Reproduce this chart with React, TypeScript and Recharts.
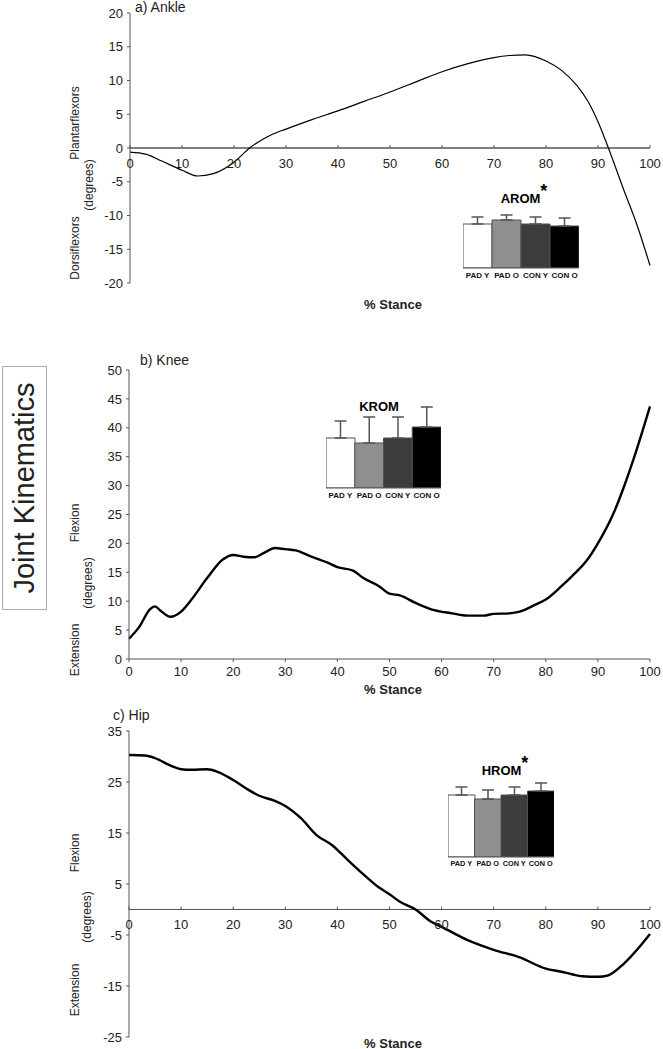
import React from 'react';
import { LineChart, Line, XAxis, YAxis, ReferenceLine, BarChart, Bar, Cell, ErrorBar } from 'recharts';

const NARROW = '"Liberation Sans Narrow", "Arial Narrow", "Liberation Sans", Arial, sans-serif';
const SANS = '"Liberation Sans", Arial, sans-serif';
const AXIS = '#555';

// % stance and joint angle (degrees)
const ankleStance = [0, 3, 6, 10, 13, 16, 20, 23, 27, 30, 35, 40, 45, 50, 55, 60, 65, 70, 73, 76, 80, 83, 86, 88, 90, 92, 95, 97.5, 100];
const ankleAngle = [-0.6, -0.9, -1.9, -3.3, -4.15, -3.8, -2.1, 0, 1.9, 2.8, 4.2, 5.5, 6.9, 8.3, 9.8, 11.3, 12.5, 13.4, 13.7, 13.8, 12.9, 11.5, 9.2, 7.0, 3.9, 0, -6.3, -11.4, -17.4];

const kneeStance = [0, 2, 4, 5, 6, 8, 10, 12, 15, 18, 20, 22, 24, 26, 28, 30, 32, 35, 38, 40, 43, 45, 48, 50, 52, 55, 58, 62, 65, 68, 70, 73, 75, 78, 80, 83, 85, 88, 90, 93, 95, 97, 100];
const kneeAngle = [3.5, 5.6, 8.6, 9.1, 8.4, 7.3, 8.2, 10.3, 14, 17.2, 18, 17.7, 17.6, 18.4, 19.2, 19, 18.8, 17.7, 16.7, 15.9, 15.3, 14, 12.6, 11.3, 11, 9.7, 8.6, 7.9, 7.5, 7.5, 7.8, 7.9, 8.2, 9.4, 10.3, 12.6, 14.3, 17.2, 20, 25.2, 29.8, 35, 43.7];

const hipStance = [0, 3, 5, 8, 10, 12, 15, 17, 20, 23, 25, 28, 30, 33, 36, 39, 42, 45, 48, 50, 52, 55, 58, 60, 65, 70, 75, 80, 83, 85, 87, 90, 92, 95, 98, 100];
const hipAngle = [30.3, 30.2, 29.7, 28.2, 27.5, 27.4, 27.5, 27, 25.4, 23.4, 22.3, 21.3, 20.3, 17.9, 14.6, 12.6, 9.7, 6.9, 4.3, 3, 1.5, 0, -2.4, -3.4, -6, -7.9, -9.4, -11.6, -12.2, -12.7, -13.1, -13.2, -12.9, -10.6, -7.3, -4.8];

// range of motion insets: group means and SD
const groups = ['PAD Y', 'PAD O', 'CON Y', 'CON O'];
const groupFills = ['#ffffff', '#8f8f8f', '#3c3c3c', '#000000'];
const aromMean = [22, 24, 22, 21];
const aromSd = [3.5, 2.5, 3.5, 4];
const kromMean = [50, 45, 50, 61];
const kromSd = [17, 26, 21, 20];
const hromMean = [62, 58, 62, 66];
const hromSd = [8, 9, 8, 8];

const stanceTicks = [0, 10, 20, 30, 40, 50, 60, 70, 80, 90, 100];
const ankleTicks = [-20, -15, -10, -5, 0, 5, 10, 15, 20];
const kneeTicks = [0, 5, 10, 15, 20, 25, 30, 35, 40, 45, 50];
const hipTicks = [-25, -15, -5, 5, 15, 25, 35];

const toRows = (xs: number[], ys: number[]) => xs.map((x, i) => ({ x, y: ys[i] }));
const toBars = (means: number[], sds: number[]) =>
  groups.map((name, i) => ({ name, value: means[i], err: [0, sds[i]] }));

const tickStyle = { fontFamily: NARROW, fontSize: 13, fill: '#222' };

// x tick drawn on the zero line instead of the bottom of the plot
const zeroTick = (shift: number) => (props: any) => {
  const { x, y, payload } = props;
  return (
    <g transform={`translate(${x},${y - shift})`}>
      <line x1={0} x2={0} y1={-3} y2={0} stroke={AXIS} />
      <text y={15} dy="0.35em" textAnchor="middle" style={tickStyle}>
        {payload.value}
      </text>
    </g>
  );
};

const Label = ({ x, y, text, size = 12, bold = false, rotate = false, family = NARROW, left = false }: any) => (
  <div
    style={{
      position: 'absolute',
      left: x,
      top: y,
      transform: `${left ? 'translate(0,-50%)' : 'translate(-50%,-50%)'}${rotate ? ' rotate(-90deg)' : ''}`,
      fontFamily: family,
      fontSize: size,
      fontWeight: bold ? 'bold' : 'normal',
      whiteSpace: 'nowrap',
      color: '#222',
      lineHeight: 1,
    }}
  >
    {text}
  </div>
);

const Inset = ({ rows, max, left, top, width, plotHeight, title, star, tx, ty, labelSize = 8 }: any) => (
  <>
    <div
      style={{
        position: 'absolute',
        left: tx,
        top: ty,
        transform: 'translate(-50%,-50%)',
        fontFamily: SANS,
        fontWeight: 'bold',
        fontSize: 13,
        whiteSpace: 'nowrap',
        lineHeight: 1,
      }}
    >
      {title}
      {star && <span style={{ fontSize: 18, position: 'relative', top: -6 }}>*</span>}
    </div>
    <div style={{ position: 'absolute', left, top }}>
      <BarChart
        width={width}
        height={plotHeight + 16}
        data={rows}
        margin={{ top: 0, right: 0, left: 0, bottom: 0 }}
        barCategoryGap={0}
        style={{ overflow: 'visible' }}
      >
        <XAxis
          dataKey="name"
          height={16}
          interval={0}
          tickLine={false}
          tickSize={0}
          tickMargin={4}
          axisLine={{ stroke: AXIS }}
          tick={{ fontFamily: SANS, fontSize: labelSize, fontWeight: 'bold', fill: '#111' }}
        />
        <YAxis hide domain={[0, max]} allowDataOverflow />
        <Bar dataKey="value" stroke="#505050" strokeWidth={1} isAnimationActive={false}>
          {rows.map((r: any, i: number) => (
            <Cell key={r.name} fill={groupFills[i]} />
          ))}
          <ErrorBar dataKey="err" width={6} stroke={AXIS} strokeWidth={1.5} direction="y" />
        </Bar>
      </BarChart>
    </div>
  </>
);

export default function App() {
  const ankleRows = toRows(ankleStance, ankleAngle);
  const kneeRows = toRows(kneeStance, kneeAngle);
  const hipRows = toRows(hipStance, hipAngle);

  const yAxisProps = {
    type: 'number' as const,
    width: 40,
    interval: 0 as const,
    tickSize: 3,
    tickMargin: 4,
    axisLine: { stroke: AXIS },
    tickLine: { stroke: AXIS },
    tick: tickStyle,
  };

  return (
    <div style={{ position: 'absolute', left: 0, top: 0, width: 663, height: 1049, background: '#fff', overflow: 'hidden' }}>
      {/* a) Ankle */}
      <div style={{ position: 'absolute', left: 0, top: 0 }}>
        <LineChart width={663} height={310} data={ankleRows} margin={{ top: 13, right: 13, left: 90, bottom: 7 }}>
          <XAxis
            dataKey="x"
            type="number"
            domain={[0, 100]}
            ticks={stanceTicks}
            interval={0}
            height={20}
            axisLine={false}
            tickLine={false}
            tickSize={0}
            tickMargin={0}
            tick={zeroTick(135)}
          />
          <YAxis {...yAxisProps} domain={[-20, 20]} ticks={ankleTicks} />
          <ReferenceLine y={0} stroke="#000" strokeWidth={1.2} />
          <Line type="monotone" dataKey="y" stroke="#000" strokeWidth={1.2} dot={false} isAnimationActive={false} />
        </LineChart>
      </div>

      {/* b) Knee */}
      <div style={{ position: 'absolute', left: 0, top: 340 }}>
        <LineChart width={663} height={340} data={kneeRows} margin={{ top: 30, right: 13, left: 89, bottom: 1 }}>
          <XAxis
            dataKey="x"
            type="number"
            domain={[0, 100]}
            ticks={stanceTicks}
            interval={0}
            height={20}
            axisLine={{ stroke: AXIS }}
            tickLine={{ stroke: AXIS }}
            tickSize={3}
            tickMargin={5}
            tick={tickStyle}
          />
          <YAxis {...yAxisProps} domain={[0, 50]} ticks={kneeTicks} />
          <Line type="monotone" dataKey="y" stroke="#000" strokeWidth={2.4} dot={false} isAnimationActive={false} />
        </LineChart>
      </div>

      {/* c) Hip */}
      <div style={{ position: 'absolute', left: 0, top: 700 }}>
        <LineChart width={663} height={349} data={hipRows} margin={{ top: 31, right: 13, left: 89, bottom: 0 }}>
          <XAxis
            dataKey="x"
            type="number"
            domain={[0, 100]}
            ticks={stanceTicks}
            interval={0}
            height={12}
            axisLine={false}
            tickLine={false}
            tickSize={0}
            tickMargin={0}
            tick={zeroTick(127.5)}
          />
          <YAxis {...yAxisProps} domain={[-25, 35]} ticks={hipTicks} />
          <ReferenceLine y={0} stroke={AXIS} strokeWidth={1.2} />
          <Line type="monotone" dataKey="y" stroke="#000" strokeWidth={2.4} dot={false} isAnimationActive={false} />
        </LineChart>
      </div>

      {/* panel titles and axis labels */}
      <Label x={135} y={7} text="a) Ankle" size={14} left />
      <Label x={75} y={123} text="Plantarflexors" rotate />
      <Label x={89} y={185} text="(degrees)" rotate />
      <Label x={75} y={248} text="Dorsiflexors" rotate />
      <Label x={393} y={304} text="% Stance" size={13} bold />

      <Label x={140} y={360} text="b) Knee" size={14} left />
      <Label x={75} y={523} text="Flexion" rotate />
      <Label x={88} y={583} text="(degrees)" rotate />
      <Label x={75} y={650} text="Extension" rotate />
      <Label x={393} y={689} text="% Stance" size={13} bold />

      <Label x={113} y={715} text="c) Hip" size={14} left />
      <Label x={75} y={853} text="Flexion" rotate />
      <Label x={87} y={917} text="(degrees)" rotate />
      <Label x={75} y={990} text="Extension" rotate />
      <Label x={393} y={1043} text="% Stance" size={13} bold />

      {/* side box */}
      <div
        style={{
          position: 'absolute',
          left: 2,
          top: 366,
          width: 43,
          height: 242,
          border: '1px solid #aaa',
        }}
      />
      <Label x={24} y={488} text="Joint Kinematics" size={29} family={SANS} rotate />

      <Inset rows={toBars(aromMean, aromSd)} max={30} left={463} top={208} width={116} plotHeight={60} title="AROM" star tx={524} ty={197} />
      <Inset rows={toBars(kromMean, kromSd)} max={90} left={326} top={398} width={115} plotHeight={90} title="KROM" tx={379} ty={406} />
      <Inset rows={toBars(hromMean, hromSd)} max={80} left={448} top={777} width={106} plotHeight={80} title="HROM" star tx={505} ty={769} labelSize={7.3} />
    </div>
  );
}
